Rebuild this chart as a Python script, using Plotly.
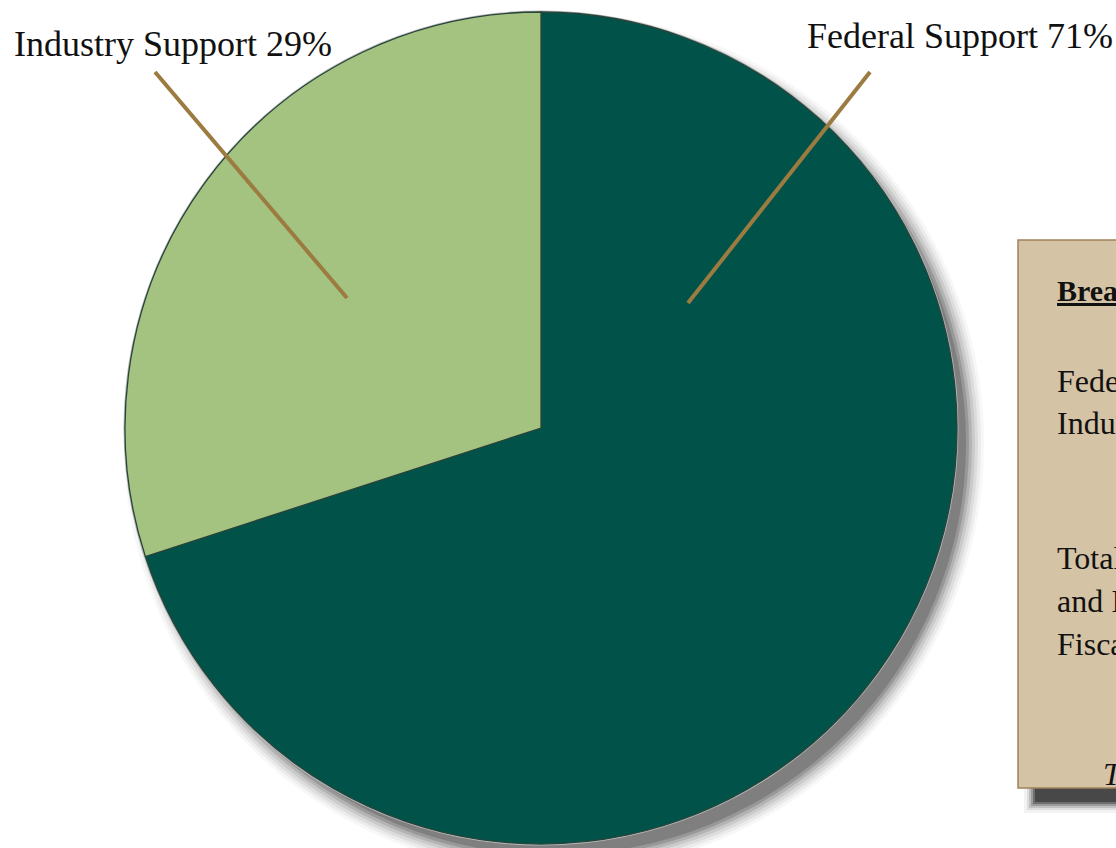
import plotly.graph_objects as go

W, H = 1116, 848

# ---- data ----
labels = ["Federal Support", "Industry Support"]
values = [70, 30]            # slice sizes as drawn in the picture
slice_colors = ["#01534a", "#a4c380"]
label_texts = ["Federal Support 71%", "Industry Support 29%"]

box_title = "Breakdown of Support"
box_lines = ["Federal Support", "Industry Support", "Total Federal", "and Industry Support for", "Fiscal Year"]
box_footer = "Total"

def px(x):
    return x / W

def py(y):
    return 1 - y / H

cx, cy, r = 541, 428, 416

fig = go.Figure()
fig.add_trace(go.Pie(
    labels=labels, values=values, sort=False, direction="clockwise", rotation=0,
    marker=dict(colors=slice_colors, line=dict(color="#27443a", width=1.3)),
    textinfo="none", hoverinfo="label+percent", showlegend=False,
    domain=dict(x=[px(cx - r), px(cx + r)], y=[py(cy + r), py(cy - r)]),
))

shapes = []
# pie shadow (soft)
ox, oy = 13, 15
for grow, op in [(14, 0.05), (11, 0.07), (8, 0.1), (5, 0.14), (2, 0.2), (-1, 0.3), (-4, 0.4)]:
    rr = r + grow
    shapes.append(dict(type="circle", xref="paper", yref="paper", layer="below",
                       x0=px(cx + ox - rr), x1=px(cx + ox + rr),
                       y0=py(cy + oy + rr), y1=py(cy + oy - rr),
                       fillcolor="#5a5a5a", opacity=op, line=dict(width=0)))
# faint rim on the top-left edge
shapes.append(dict(type="circle", xref="paper", yref="paper", layer="below",
                   x0=px(cx - r - 1.5), x1=px(cx + r + 1.5),
                   y0=py(cy + r + 1.5), y1=py(cy - r - 1.5),
                   fillcolor="#b8b8b8", line=dict(width=0)))

# box shadow
bx0, by0, bx1, by1 = 1018, 240, 1200, 788
sx, sy = 16, 15
for grow, op in [(10, 0.06), (7, 0.1), (5, 0.16), (3, 0.25), (1, 0.4), (-1, 0.55)]:
    shapes.append(dict(type="rect", xref="paper", yref="paper", layer="below",
                       x0=px(bx0 + sx - grow), x1=px(bx1 + sx + grow),
                       y0=py(by1 + sy + grow), y1=py(by0 + sy - grow),
                       fillcolor="#2a2a2a", opacity=op, line=dict(width=0)))
shapes.append(dict(type="rect", xref="paper", yref="paper", layer="below",
                   x0=px(bx0), x1=px(bx1), y0=py(by1), y1=py(by0),
                   fillcolor="#d5c3a6", line=dict(color="#9e835a", width=1.5)))

# leader lines
line_col = "#9c7b40"
shapes.append(dict(type="line", xref="paper", yref="paper",
                   x0=px(870), y0=py(72), x1=px(688), y1=py(303),
                   line=dict(color=line_col, width=4)))
shapes.append(dict(type="line", xref="paper", yref="paper",
                   x0=px(155), y0=py(72), x1=px(347), y1=py(298),
                   line=dict(color=line_col, width=4)))

serif = "Liberation Serif"
ann = []
ann.append(dict(text=label_texts[1], x=px(12), y=py(44), xref="paper", yref="paper",
                xanchor="left", yanchor="middle", showarrow=False,
                font=dict(family=serif, size=36, color="#111111")))
ann.append(dict(text=label_texts[0], x=px(805), y=py(36), xref="paper", yref="paper",
                xanchor="left", yanchor="middle", showarrow=False,
                font=dict(family=serif, size=36, color="#111111")))

ann.append(dict(text="<b><u>" + box_title + "</u></b>", x=px(1055), y=py(290), xref="paper", yref="paper",
                xanchor="left", yanchor="middle", showarrow=False,
                font=dict(family=serif, size=30, color="#111111")))
for txt, yy in zip(box_lines, [381, 423, 558, 601, 644]):
    ann.append(dict(text=txt, x=px(1055), y=py(yy), xref="paper", yref="paper",
                    xanchor="left", yanchor="middle", showarrow=False,
                    font=dict(family=serif, size=32, color="#111111")))
ann.append(dict(text="<i>" + box_footer + "</i>", x=px(1101), y=py(774), xref="paper", yref="paper",
                xanchor="left", yanchor="middle", showarrow=False,
                font=dict(family=serif, size=32, color="#111111")))

fig.update_layout(width=W, height=H, margin=dict(l=0, r=0, t=0, b=0),
                  paper_bgcolor="white", plot_bgcolor="white",
                  shapes=shapes, annotations=ann)
fig.write_html("out.html")
